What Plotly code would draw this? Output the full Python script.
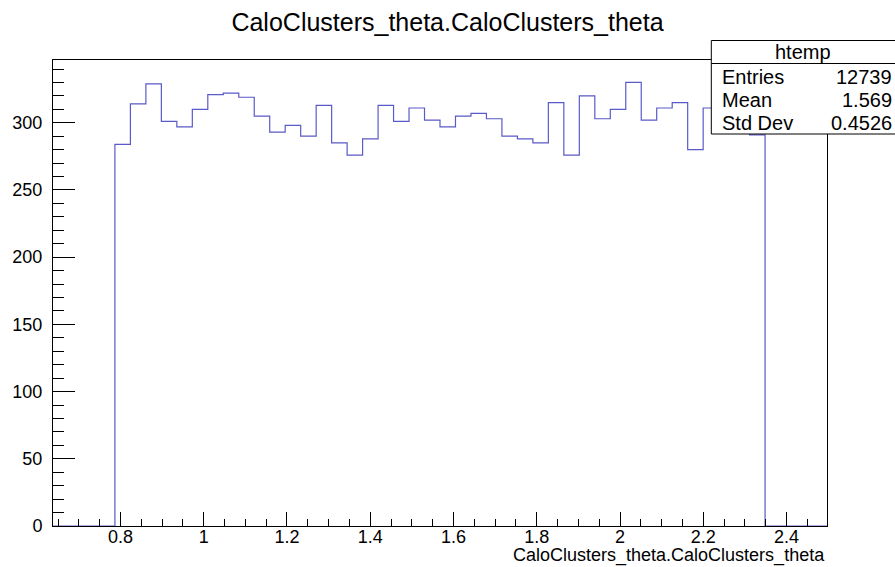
import plotly.graph_objects as go

# ---- data ----
title_text = "CaloClusters_theta.CaloClusters_theta"
x_title = "CaloClusters_theta.CaloClusters_theta"
x_min = 0.638
x_max = 2.497
n_bins = 50
counts = [0, 0, 0, 0,
          284, 314, 329, 301, 297, 310, 321, 322, 319, 305,
          293, 298, 290, 313, 285, 276, 288, 313, 301, 311,
          302, 297, 305, 307, 303, 290, 288, 285, 315, 276,
          320, 303, 310, 330, 302, 311, 315, 280, 311, 316,
          312, 291,
          0, 0, 0, 0]
stats_name = "htemp"
stats_labels = ["Entries", "Mean", "Std Dev"]
stats_values = ["12739", "1.569", "0.4526"]
y_max = 346.7

# bin edges from the histogram definition
width = (x_max - x_min) / n_bins
edges = [x_min + i * width for i in range(n_bins + 1)]
ys = list(counts) + [counts[-1]]

FONT = "Liberation Sans, Arial, Helvetica, sans-serif"
LINE = "#5a5ac8"
W, H = 895, 567
ML, MR, MT, MB = 51, 68, 60, 41
PW, PH = W - ML - MR, H - MT - MB

def px(xp):
    return (xp - ML) / PW

def py(yp):
    return (H - MB - yp) / PH

fig = go.Figure()
fig.add_trace(go.Scatter(x=edges, y=ys, mode="lines", line=dict(shape="hv", color=LINE, width=1.2),
                         hoverinfo="skip", showlegend=False))

fig.update_layout(
    width=W, height=H,
    margin=dict(l=ML, r=MR, t=MT, b=MB),
    paper_bgcolor="white", plot_bgcolor="white",
    font=dict(family=FONT, color="black", size=18),
    title=dict(text=title_text, x=0.5, xanchor="center", y=1 - 22 / H, yanchor="middle",
               font=dict(size=25, family=FONT)),
    showlegend=False,
)
fig.update_xaxes(range=[x_min, x_max], showgrid=False, zeroline=False,
                 showline=True, linecolor="black", linewidth=1, mirror=True,
                 ticks="inside", ticklen=14, tickcolor="black", tickwidth=1,
                 tick0=0, dtick=0.2, tickformat="~g",
                 minor=dict(ticks="inside", ticklen=7, dtick=0.05, tick0=0, tickcolor="black", showgrid=False),
                 tickfont=dict(size=18), ticklabelstandoff=-6)
fig.update_yaxes(range=[0, y_max], showgrid=False, zeroline=False,
                 showline=True, linecolor="black", linewidth=1, mirror=True,
                 ticks="inside", ticklen=22, tickcolor="black", tickwidth=1,
                 tick0=0, dtick=50,
                 minor=dict(ticks="inside", ticklen=11, dtick=10, tick0=0, tickcolor="black", showgrid=False),
                 tickfont=dict(size=18), ticklabelstandoff=6)

# x-axis title, right aligned at the end of the axis (ROOT style)
fig.add_annotation(text=x_title, xref="paper", yref="paper", x=1.0, y=py(555.5),
                   xanchor="right", yanchor="middle", showarrow=False, font=dict(size=18, family=FONT))

# stats box
bx0, bx1, by0, by1, bmid = 711, 896, 40.5, 134, 63.5
fig.add_shape(type="rect", xref="paper", yref="paper", x0=px(bx0), x1=px(bx1), y0=py(by1), y1=py(by0),
              line=dict(color="black", width=1), fillcolor="white", layer="above")
fig.add_shape(type="line", xref="paper", yref="paper", x0=px(bx0), x1=px(bx1), y0=py(bmid), y1=py(bmid),
              line=dict(color="black", width=1), layer="above")
fig.add_annotation(text=stats_name, xref="paper", yref="paper", x=px((bx0 + 895) / 2), y=py(52),
                   xanchor="center", yanchor="middle", showarrow=False, font=dict(size=20, family=FONT))
row_y = [77, 100, 123]
for lab, val, yy in zip(stats_labels, stats_values, row_y):
    fig.add_annotation(text=lab, xref="paper", yref="paper", x=px(bx0 + 9), y=py(yy),
                       xanchor="left", yanchor="middle", showarrow=False, font=dict(size=20, family=FONT))
    fig.add_annotation(text=val, xref="paper", yref="paper", x=px(894), y=py(yy),
                       xanchor="right", yanchor="middle", showarrow=False, font=dict(size=20, family=FONT))

fig.write_html("out.html")
